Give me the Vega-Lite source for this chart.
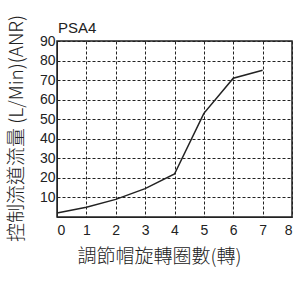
{
  "$schema": "https://vega.github.io/schema/vega-lite/v6.json",
  "autosize": "none",
  "padding": {"left": 57, "top": 41, "right": 4, "bottom": 64},
  "width": 235,
  "height": 176,
  "background": "white",
  "resolve": {"axis": {"x": "independent", "y": "independent"}},
  "layer": [
    {
      "data": {
        "values": [
          {"turns": 0, "flow": 2},
          {"turns": 1, "flow": 5},
          {"turns": 2, "flow": 9},
          {"turns": 3, "flow": 14.5},
          {"turns": 4, "flow": 22},
          {"turns": 5, "flow": 53},
          {"turns": 6, "flow": 71},
          {"turns": 7, "flow": 75}
        ]
      },
      "mark": {"type": "line", "color": "#222", "strokeWidth": 1.5},
      "encoding": {
        "x": {
          "field": "turns",
          "type": "quantitative",
          "scale": {"domain": [0, 8], "nice": false},
          "axis": {
            "values": [0, 1, 2, 3, 4, 5, 6, 7, 8],
            "labelOverlap": false,
            "title": "調節帽旋轉圈數(轉)",
            "titleFont": "Noto Sans CJK TC",
            "titleFontSize": 19,
            "titleFontWeight": 300,
            "titleColor": "#222",
            "titleX": 102,
            "titleY": 39,
            "titleBaseline": "middle",
            "labelFont": "Liberation Sans",
            "labelFontSize": 14,
            "labelColor": "#222",
            "labelPadding": 6,
            "ticks": false,
            "domainColor": "#222",
            "gridColor": "#222",
            "gridDash": [3, 2],
            "gridOpacity": 1,
            "gridWidth": 1
          }
        },
        "y": {
          "field": "flow",
          "type": "quantitative",
          "scale": {"domain": [0, 90], "nice": false},
          "axis": {
            "values": [10, 20, 30, 40, 50, 60, 70, 80, 90],
            "labelOverlap": false,
            "title": "控制流道流量 (L/Min)(ANR)",
            "titleFont": "Noto Sans CJK TC",
            "titleFontSize": 19,
            "titleFontWeight": 300,
            "titleColor": "#222",
            "titleX": -41,
            "titleY": 87,
            "titleBaseline": "middle",
            "titleAngle": -90,
            "labelFont": "Liberation Sans",
            "labelFontSize": 14,
            "labelColor": "#222",
            "labelPadding": 2,
            "ticks": false,
            "domainColor": "#222",
            "gridColor": "#222",
            "gridDash": [3, 2],
            "gridOpacity": 1,
            "gridWidth": 1
          }
        }
      }
    },
    {
      "data": {"values": [{"label": "PSA4"}]},
      "mark": {
        "type": "text",
        "align": "left",
        "baseline": "alphabetic",
        "dx": 1,
        "dy": -8,
        "font": "Liberation Sans",
        "fontSize": 15,
        "color": "#222"
      },
      "encoding": {
        "x": {"datum": 0, "type": "quantitative", "axis": null},
        "y": {"datum": 90, "type": "quantitative", "axis": null},
        "text": {"field": "label"}
      }
    }
  ],
  "config": {
    "view": {"stroke": "#222", "strokeWidth": 1.5}
  }
}
